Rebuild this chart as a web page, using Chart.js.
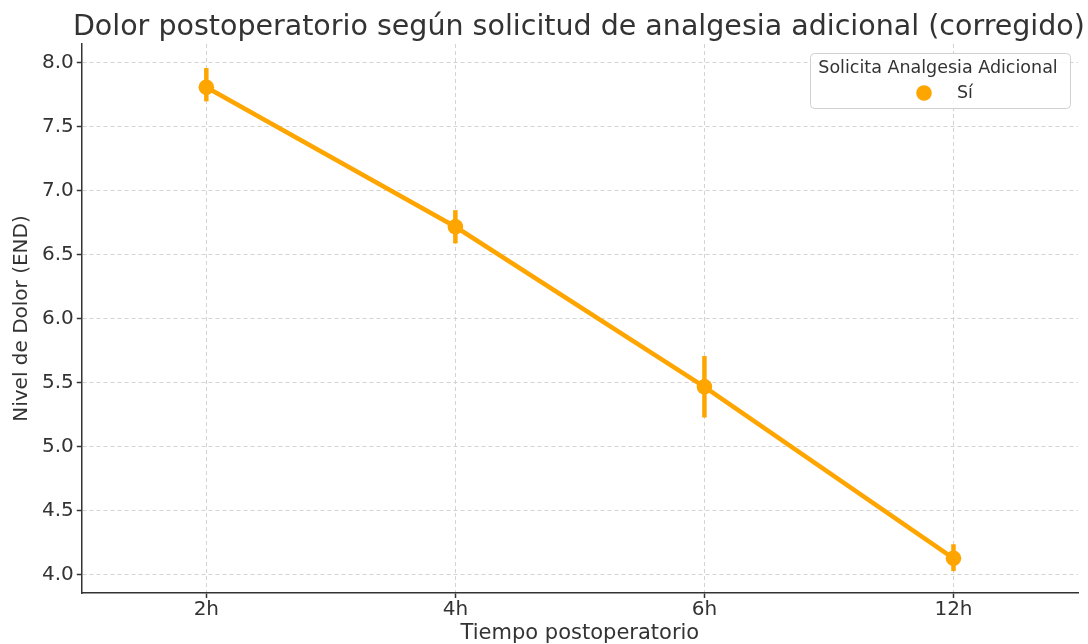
<!DOCTYPE html>
<html>
<head>
<meta charset="utf-8">
<script src="https://cdn.jsdelivr.net/npm/chart.js@4.4.0/dist/chart.umd.min.js"></script>
<style>
  html, body { margin: 0; padding: 0; background: #fff; }
  #wrap { width: 1088px; height: 644px; }
</style>
</head>
<body>
<div id="wrap"><canvas id="painChart" width="1088" height="644"></canvas></div>
<script>
// Data
var tiempos = ["2h", "4h", "6h", "12h"];
var dolorMedio = [7.81, 6.72, 5.47, 4.13];
var errorBajo = [7.70, 6.59, 5.23, 4.03];
var errorAlto = [7.96, 6.85, 5.71, 4.24];
var yTicks = [4.0, 4.5, 5.0, 5.5, 6.0, 6.5, 7.0, 7.5, 8.0];
var grupoLabel = "Sí";
var legendTitle = "Solicita Analgesia Adicional";
var chartTitle = "Dolor postoperatorio según solicitud de analgesia adicional (corregido)";

var naranja = "#FFA500";
var textColor = "#333333";
var font = "'DejaVu Sans', sans-serif";

// title centred over the plot area (matplotlib style)
var plotTitle = {
    id: 'plotTitle',
    afterDraw: function(chart) {
        var ctx = chart.ctx;
        var a = chart.chartArea;
        ctx.save();
        ctx.fillStyle = textColor;
        ctx.font = "28.5px " + font;
        ctx.textAlign = "center";
        ctx.textBaseline = "alphabetic";
        ctx.fillText(chartTitle, (a.left + a.right) / 2 - 1, 35);
        ctx.restore();
    }
};

// vertical error bars drawn through the scales
var errorBars = {
    id: 'errorBars',
    afterDatasetsDraw: function(chart) {
        var ctx = chart.ctx;
        var x = chart.scales.x, y = chart.scales.y;
        ctx.save();
        ctx.strokeStyle = naranja;
        ctx.lineWidth = 4.5;
        for (var i = 0; i < tiempos.length; i++) {
            var px = x.getPixelForValue(i);
            ctx.beginPath();
            ctx.moveTo(px, y.getPixelForValue(errorBajo[i]));
            ctx.lineTo(px, y.getPixelForValue(errorAlto[i]));
            ctx.stroke();
        }
        ctx.restore();
    }
};

// legend box inside the plot
var insideLegend = {
    id: 'insideLegend',
    afterDraw: function(chart) {
        var ctx = chart.ctx;
        var a = chart.chartArea;
        var w = 260, h = 55;
        var left = a.right - 8 - w, top = a.top + 9;
        ctx.save();
        ctx.fillStyle = "rgba(255,255,255,0.85)";
        ctx.strokeStyle = "#d0d0d0";
        ctx.lineWidth = 1;
        ctx.beginPath();
        ctx.roundRect(left + 0.5, top + 0.5, w, h, 4);
        ctx.fill();
        ctx.stroke();
        ctx.fillStyle = textColor;
        ctx.font = "17.5px " + font;
        ctx.textAlign = "center";
        ctx.textBaseline = "middle";
        ctx.fillText(legendTitle, left + w / 2 - 2, top + 15);
        ctx.fillStyle = naranja;
        ctx.beginPath();
        ctx.arc(left + 114, top + 40, 7.8, 0, Math.PI * 2);
        ctx.fill();
        ctx.fillStyle = textColor;
        ctx.textAlign = "left";
        ctx.fillText(grupoLabel, left + 147, top + 40);
        ctx.restore();
    }
};

(function(){
    var painObj = document.getElementById("painChart").getContext("2d");
    var painChart = new Chart(painObj, {
        type: 'line',
        data: {
            labels: tiempos,
            datasets: [{
                label: grupoLabel,
                data: dolorMedio,
                borderColor: naranja,
                backgroundColor: naranja,
                borderWidth: 4.5,
                pointRadius: 7.8,
                pointBackgroundColor: naranja,
                pointBorderWidth: 0,
                tension: 0,
                fill: false
            }]
        },
        options: {
            responsive: false,
            animation: false,
            layout: { padding: { left: 12, right: 10, top: 44, bottom: 0 } },
            plugins: {
                legend: { display: false },
                tooltip: { enabled: false },
                title: { display: false }
            },
            scales: {
                x: {
                    type: 'category',
                    offset: true,
                    grid: {
                        color: "#d3d3d3",
                        lineWidth: 1,
                        drawTicks: true,
                        tickLength: 5,
                        tickColor: textColor,
                        tickWidth: 1.5,
                        tickBorderDash: []
                    },
                    border: { display: true, color: textColor, width: 1.5, dash: [4, 3] },
                    ticks: { color: textColor, font: { family: font, size: 20, lineHeight: 1.0 }, padding: 2 },
                    title: {
                        display: true,
                        text: "Tiempo postoperatorio",
                        color: textColor,
                        font: { family: font, size: 21, lineHeight: 1.0 },
                        padding: { top: 1, bottom: 0 }
                    }
                },
                y: {
                    min: 3.859,
                    max: 8.148,
                    afterBuildTicks: function(scale) {
                        scale.ticks = yTicks.map(function(v){ return { value: v }; });
                    },
                    grid: {
                        color: "#d3d3d3",
                        lineWidth: 1,
                        drawTicks: true,
                        tickLength: 5,
                        tickColor: textColor,
                        tickWidth: 1.5,
                        tickBorderDash: []
                    },
                    border: { display: true, color: textColor, width: 1.5, dash: [4, 3] },
                    ticks: {
                        color: textColor,
                        font: { family: font, size: 20 },
                        padding: 3,
                        callback: function(v) { return Number(v).toFixed(1); }
                    },
                    title: {
                        display: true,
                        text: "Nivel de Dolor (END)",
                        color: textColor,
                        font: { family: font, size: 20, lineHeight: 1.0 },
                        padding: { top: 0, bottom: 7 }
                    }
                }
            }
        },
        plugins: [errorBars, insideLegend, plotTitle]
    });
})();
</script>
</body>
</html>
